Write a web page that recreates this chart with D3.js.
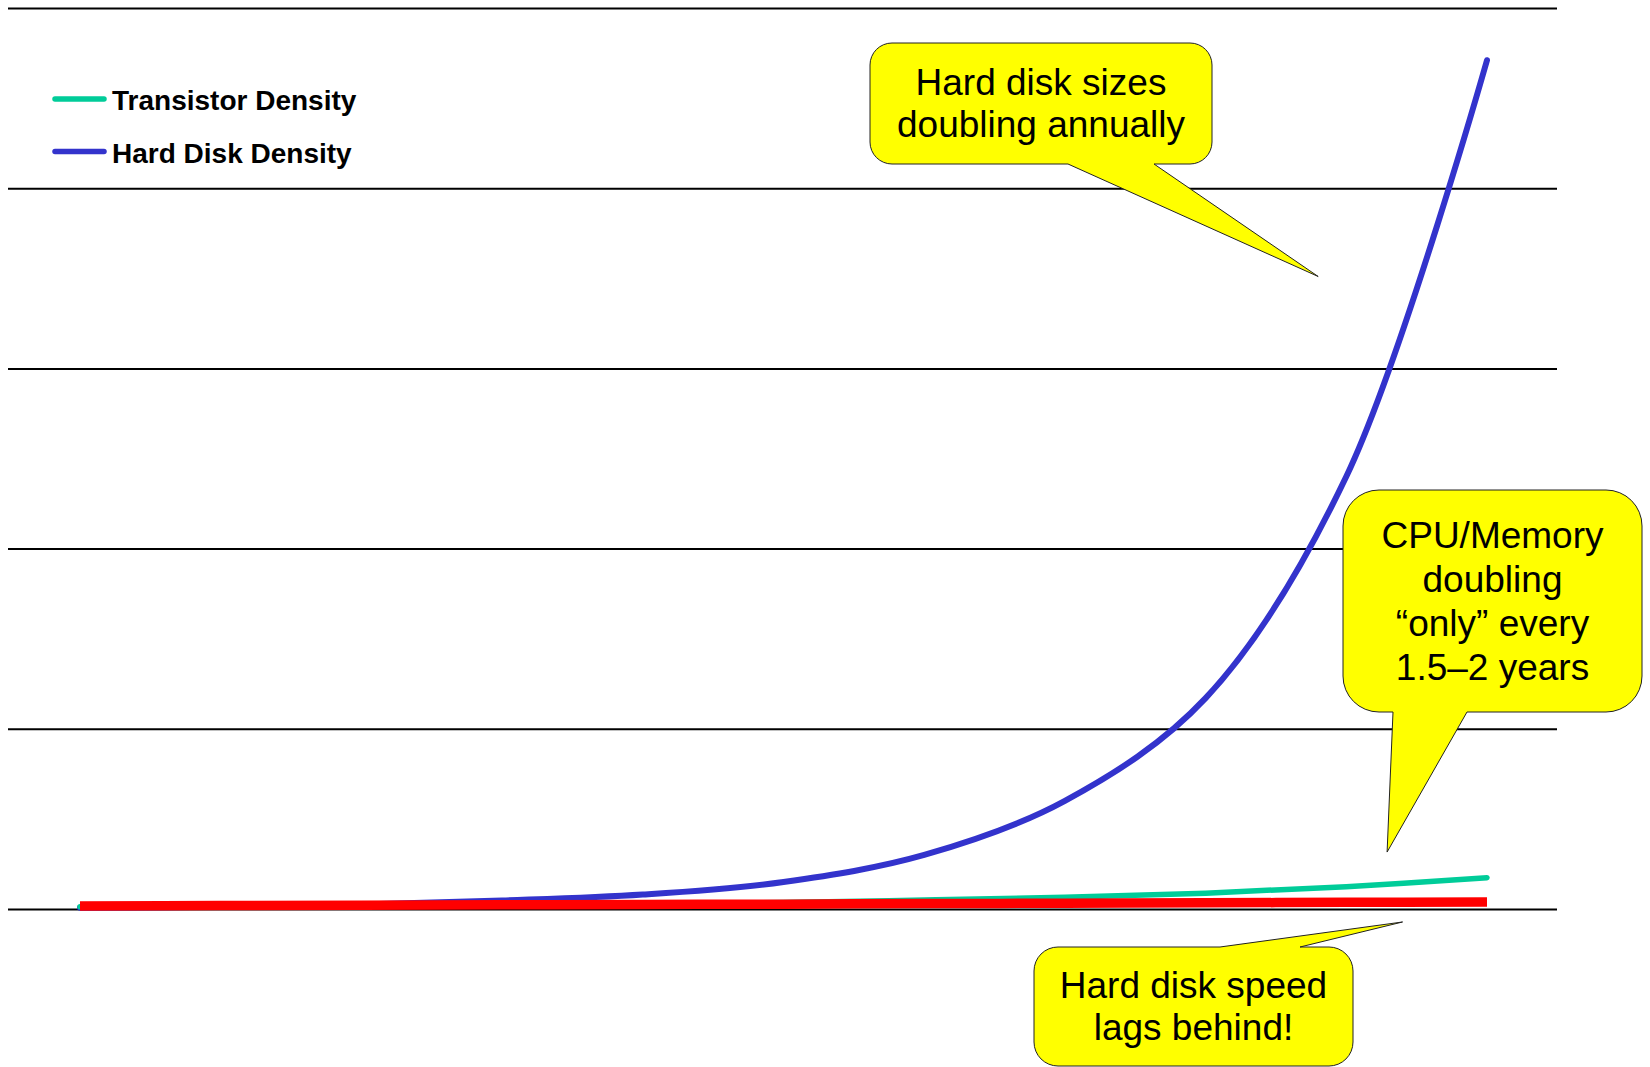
<!DOCTYPE html>
<html>
<head>
<meta charset="utf-8">
<script src="https://cdn.jsdelivr.net/npm/d3@7"></script>
<style>
  html, body { margin: 0; padding: 0; background: #fff; }
  svg { display: block; }
  text { font-family: "Liberation Sans", Arial, sans-serif; }
</style>
</head>
<body>
<svg id="chart" width="1650" height="1067"></svg>
<script>
// ---------------- data ----------------
const years = [0, 1, 2, 3, 4, 5, 6, 7, 8, 9, 10];
const hardDiskDensity   = [0.007, 0.013, 0.025, 0.047, 0.08, 0.15, 0.30, 0.60, 1.17, 2.40, 4.71];
const transistorDensity = [0.013, 0.016, 0.020, 0.024, 0.029, 0.036, 0.05, 0.065, 0.088, 0.124, 0.174];
const hardDiskSpeed     = [0.017, 0.019, 0.021, 0.023, 0.025, 0.027, 0.030, 0.032, 0.034, 0.037, 0.039];
const gridValues = [0, 1, 2, 3, 4, 5];
const legendLabels = ["Transistor Density", "Hard Disk Density"];
const calloutTexts = [
  ["Hard disk sizes", "doubling annually"],
  ["CPU/Memory", "doubling", "\u201Conly\u201D every", "1.5\u20132 years"],
  ["Hard disk speed", "lags behind!"]
];
// callout tips in data coordinates [year, value]
const calloutTips = [[8.8, 3.51], [9.29, 0.316], [9.4, -0.072]];

// ---------------- layout ----------------
const svg = d3.select("#chart");
const W = 1650, H = 1067;
const gridX0 = 8, gridX1 = 1557;
const x = d3.scaleLinear().domain([0, 10]).range([80, 1487]);
const y = d3.scaleLinear().domain([0, 5]).range([909, 8]);

const colors = { transistor: "#00CC99", disk: "#3333CC", speed: "#FF0000", callout: "#FFFF00" };

svg.append("rect").attr("width", W).attr("height", H).attr("fill", "#fff");

// gridlines via axis
const gridAxis = d3.axisLeft(y).tickValues(gridValues).tickFormat("").tickSize(-(gridX1 - gridX0));
const g = svg.append("g").attr("transform", `translate(${gridX0},0)`).call(gridAxis);
g.select(".domain").remove();
g.selectAll(".tick line").attr("stroke", "#000").attr("stroke-width", 2);

// lines
const mk = vals => years.map((yr, i) => ({ x: yr, v: vals[i] }));
const line = d3.line().x(d => x(d.x)).y(d => y(d.v)).curve(d3.curveCatmullRom.alpha(0.5));

svg.append("path").datum(mk(hardDiskDensity)).attr("d", line)
  .attr("fill", "none").attr("stroke", colors.disk).attr("stroke-width", 6)
  .attr("stroke-linecap", "round").attr("stroke-linejoin", "round");
svg.append("path").datum(mk(transistorDensity)).attr("d", line)
  .attr("fill", "none").attr("stroke", colors.transistor).attr("stroke-width", 5.5)
  .attr("stroke-linecap", "round").attr("stroke-linejoin", "round");
svg.append("path").datum(mk(hardDiskSpeed)).attr("d", line)
  .attr("fill", "none").attr("stroke", colors.speed).attr("stroke-width", 9.5)
  .attr("stroke-linecap", "butt");

// legend
const legendColors = [colors.transistor, colors.disk];
const legend = svg.append("g");
legendLabels.forEach((lab, i) => {
  const cy = 99 + i * 52.5;
  legend.append("line").attr("x1", 55).attr("x2", 104).attr("y1", cy).attr("y2", cy)
    .attr("stroke", legendColors[i]).attr("stroke-width", 5.5).attr("stroke-linecap", "round");
  legend.append("text").attr("x", 112).attr("y", cy + 11)
    .attr("font-size", 28).attr("font-weight", "bold").attr("fill", "#000").text(lab);
});

// callouts
function calloutPath(b, tip) {
  const { x0, y0, x1, y1, r, side, p0, p1 } = b;
  const [tx, ty] = tip;
  if (side === "bottom") {
    return `M${x0 + r},${y0} H${x1 - r} A${r},${r} 0 0 1 ${x1},${y0 + r} V${y1 - r} A${r},${r} 0 0 1 ${x1 - r},${y1}` +
      ` H${p1} L${tx},${ty} L${p0},${y1} H${x0 + r} A${r},${r} 0 0 1 ${x0},${y1 - r} V${y0 + r} A${r},${r} 0 0 1 ${x0 + r},${y0} Z`;
  }
  return `M${x0 + r},${y0} H${p0} L${tx},${ty} L${p1},${y0} H${x1 - r} A${r},${r} 0 0 1 ${x1},${y0 + r} V${y1 - r} A${r},${r} 0 0 1 ${x1 - r},${y1}` +
    ` H${x0 + r} A${r},${r} 0 0 1 ${x0},${y1 - r} V${y0 + r} A${r},${r} 0 0 1 ${x0 + r},${y0} Z`;
}
const boxes = [
  { x0: 870, y0: 43, x1: 1212, y1: 164, r: 22, side: "bottom", p0: 1068, p1: 1154, lh: 42 },
  { x0: 1343, y0: 490, x1: 1642, y1: 712, r: 36, side: "bottom", p0: 1393, p1: 1467, lh: 44 },
  { x0: 1034, y0: 947, x1: 1353, y1: 1066, r: 24, side: "top", p0: 1220, p1: 1300, lh: 42 }
];
const fs = 37;
boxes.forEach((b, i) => {
  const tip = [x(calloutTips[i][0]), y(calloutTips[i][1])];
  svg.append("path").attr("d", calloutPath(b, tip))
    .attr("fill", colors.callout).attr("stroke", "#222").attr("stroke-width", 1);
  const lines = calloutTexts[i];
  const cx = (b.x0 + b.x1) / 2, cy = (b.y0 + b.y1) / 2;
  const first = cy - (lines.length - 1) / 2 * b.lh + 0.35 * fs;
  lines.forEach((t, j) => {
    svg.append("text").attr("x", cx).attr("y", first + j * b.lh)
      .attr("text-anchor", "middle").attr("font-size", fs).attr("fill", "#000").text(t);
  });
});
</script>
</body>
</html>
